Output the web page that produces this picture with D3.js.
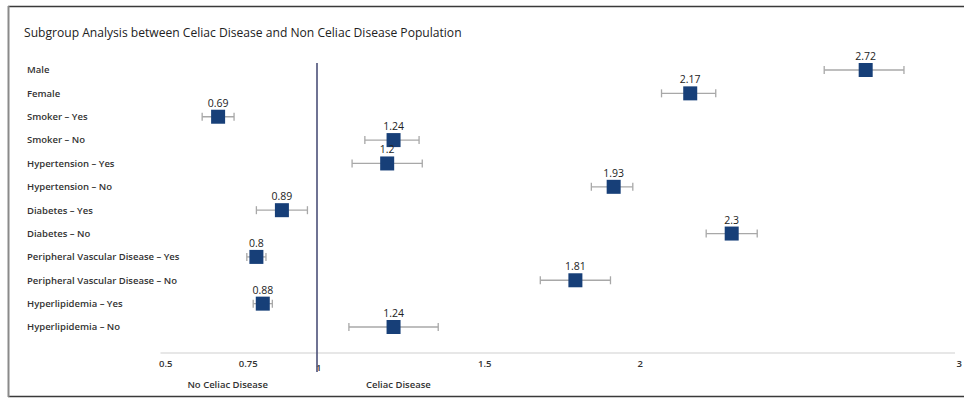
<!DOCTYPE html>
<html>
<head>
<meta charset="utf-8">
<script src="https://cdn.jsdelivr.net/npm/d3@7"></script>
<style>
  html, body { margin: 0; padding: 0; background: #fff; }
  svg { display: block; }
</style>
</head>
<body>
<svg id="chart" width="964" height="403"></svg>
<script>
const title = "Subgroup Analysis between Celiac Disease and Non Celiac Disease Population";
const categories = [
  "Male", "Female", "Smoker \u2013 Yes", "Smoker \u2013 No",
  "Hypertension \u2013 Yes", "Hypertension \u2013 No",
  "Diabetes \u2013 Yes", "Diabetes \u2013 No",
  "Peripheral Vascular Disease \u2013 Yes", "Peripheral Vascular Disease \u2013 No",
  "Hyperlipidemia \u2013 Yes", "Hyperlipidemia \u2013 No"
];
// plotted point estimates
const estimates = [2.72, 2.17, 0.69, 1.24, 1.22, 1.93, 0.89, 2.30, 0.81, 1.81, 0.83, 1.24];
// printed value labels
const valueLabels = ["2.72", "2.17", "0.69", "1.24", "1.2", "1.93", "0.89", "2.3", "0.8", "1.81", "0.88", "1.24"];
const lower = [2.59, 2.08, 0.64, 1.15, 1.11, 1.86, 0.81, 2.22, 0.78, 1.70, 0.80, 1.10];
const upper = [2.84, 2.25, 0.74, 1.32, 1.33, 1.99, 0.97, 2.38, 0.84, 1.92, 0.86, 1.38];
const tickValues = [0.5, 0.75, 1, 1.5, 2, 3];
const tickLabels = ["0.5", "0.75", "1", "1.5", "2", "3"];
const sideLabels = ["No Celiac Disease", "Celiac Disease"];

const rows = categories.map((c, i) => ({
  cat: c, est: estimates[i], label: valueLabels[i], lo: lower[i], hi: upper[i]
}));

const svg = d3.select("#chart");
const font = "'Open Sans', 'Noto Sans', sans-serif";

// frame
svg.append("line").attr("x1", 8).attr("x2", 964).attr("y1", 6.5).attr("y2", 6.5)
  .attr("stroke", "#3a3a3a").attr("stroke-width", 1.5);
svg.append("line").attr("x1", 8).attr("x2", 964).attr("y1", 396.5).attr("y2", 396.5)
  .attr("stroke", "#3a3a3a").attr("stroke-width", 1.5);
svg.append("line").attr("x1", 8.5).attr("x2", 8.5).attr("y1", 6).attr("y2", 397)
  .attr("stroke", "#8a8a8a").attr("stroke-width", 2);

svg.append("text").attr("x", 24).attr("y", 37)
  .attr("font-family", font).attr("font-size", 12.1).attr("fill", "#222")
  .text(title);

const x = d3.scaleLinear().domain([1, 3]).range([317, 955]);
const y = d3.scalePoint().domain(categories).range([70, 327]);

// category labels
svg.append("g").selectAll("text").data(rows).join("text")
  .attr("x", 27).attr("y", d => y(d.cat)).attr("dy", "0.35em")
  .attr("font-family", font).attr("font-size", 9.5).attr("font-weight", 600)
  .attr("fill", "#333").text(d => d.cat);

// axis
const axis = d3.axisBottom(x).tickValues(tickValues)
  .tickFormat((d, i) => tickLabels[i]).tickSize(0).tickPadding(0);
const ag = svg.append("g").attr("transform", "translate(0,353)").call(axis);
ag.select(".domain").attr("stroke", "#cfcfcf").attr("stroke-width", 1.2)
  .attr("d", `M${x(0.5) + 3},0H${x(3)}`);
ag.selectAll(".tick text")
  .attr("text-anchor", "start")
  .attr("font-family", font).attr("font-size", 9.5).attr("font-weight", 600)
  .attr("fill", "#333")
  .attr("y", d => d === 1 ? 15 : 11)
  .attr("x", d => d === 1 ? -1.5 : 1)
  .attr("dy", "0.35em");

// side labels
svg.append("text").attr("x", x(0.72)).attr("y", 388).attr("text-anchor", "middle")
  .attr("font-family", font).attr("font-size", 9.5).attr("font-weight", 600)
  .attr("fill", "#333").text(sideLabels[0]);
svg.append("text").attr("x", x(1.255)).attr("y", 388).attr("text-anchor", "middle")
  .attr("font-family", font).attr("font-size", 9.5).attr("font-weight", 600)
  .attr("fill", "#333").text(sideLabels[1]);

// reference line at 1
svg.append("line").attr("x1", x(1)).attr("x2", x(1)).attr("y1", 63).attr("y2", 372)
  .attr("stroke", "#4b5078").attr("stroke-width", 1.6);

// error bars
const g = svg.append("g");
const eb = g.selectAll("g.eb").data(rows).join("g").attr("class", "eb");
eb.append("line")
  .attr("x1", d => x(d.lo)).attr("x2", d => x(d.hi))
  .attr("y1", d => y(d.cat)).attr("y2", d => y(d.cat))
  .attr("stroke", "#a8a8a8").attr("stroke-width", 1.3);
eb.append("line")
  .attr("x1", d => x(d.lo)).attr("x2", d => x(d.lo))
  .attr("y1", d => y(d.cat) - 4).attr("y2", d => y(d.cat) + 4)
  .attr("stroke", "#a8a8a8").attr("stroke-width", 1.3);
eb.append("line")
  .attr("x1", d => x(d.hi)).attr("x2", d => x(d.hi))
  .attr("y1", d => y(d.cat) - 4).attr("y2", d => y(d.cat) + 4)
  .attr("stroke", "#a8a8a8").attr("stroke-width", 1.3);

// markers
const s = 14;
g.selectAll("rect.m").data(rows).join("rect").attr("class", "m")
  .attr("x", d => x(d.est) - s / 2).attr("y", d => y(d.cat) - s / 2)
  .attr("width", s).attr("height", s)
  .attr("fill", "#173f78");

// value labels
g.selectAll("text.v").data(rows).join("text").attr("class", "v")
  .attr("x", d => x(d.est)).attr("y", d => y(d.cat) - 10)
  .attr("text-anchor", "middle")
  .attr("font-family", font).attr("font-size", 10.5).attr("font-weight", 500)
  .attr("fill", "#222").text(d => d.label);
</script>
</body>
</html>
